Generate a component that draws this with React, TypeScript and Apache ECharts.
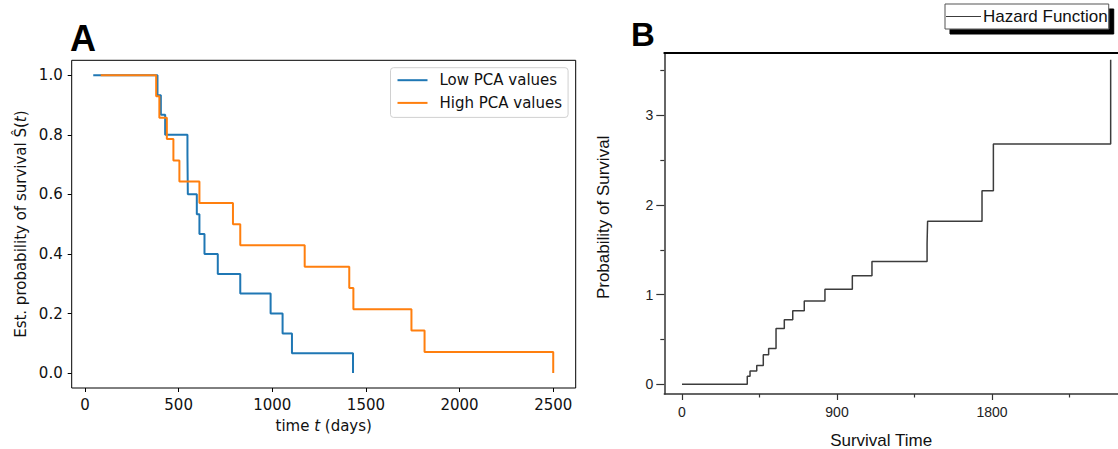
import React, { useEffect, useRef } from 'react';
import * as echarts from 'echarts';

// Panel A: Kaplan-Meier estimates
const lowPcaTimes = [44, 387, 405, 428, 547, 549, 597, 611, 638, 709, 829, 991, 1055, 1105, 1431];
const lowPcaSurv = [1, 0.933, 0.867, 0.8, 0.733, 0.6, 0.533, 0.467, 0.4, 0.333, 0.267, 0.2, 0.133, 0.067, 0];
const highPcaTimes = [84, 380, 397, 437, 472, 504, 611, 790, 829, 1173, 1411, 1433, 1743, 1813, 2500];
const highPcaSurv = [1, 0.929, 0.857, 0.786, 0.714, 0.643, 0.571, 0.5, 0.429, 0.357, 0.286, 0.214, 0.143, 0.071, 0];
const aXTicks = [0, 500, 1000, 1500, 2000, 2500];
const aYTicks = [0, 0.2, 0.4, 0.6, 0.8, 1.0];

// Panel B: hazard function
const hazardTimes = [0, 379, 395, 434, 472, 503, 546, 594, 643, 710, 830, 989, 1103, 1423, 1426, 1742, 1808, 2489];
const hazardValues = [0, 0.09, 0.15, 0.21, 0.33, 0.4, 0.624, 0.72, 0.82, 0.93, 1.06, 1.21, 1.37, 1.57, 1.82, 2.16, 2.68, 3.62];
const bXTicks = [0, 900, 1800];
const bXMinor = [450, 1350, 2250];
const bYTicks = [0, 1, 2, 3];
const bYMinor = [0.5, 1.5, 2.5, 3.5];

const zip = (xs: number[], ys: number[]) => xs.map((x, i) => [x, ys[i]]);

const MPL = 'DejaVu Sans';
const ARIAL = 'Liberation Sans';

function buildOption(): any {
  const mplText = { fontFamily: MPL, fontSize: 15, color: '#111' };
  const arialTick = { fontFamily: ARIAL, fontSize: 14, color: '#222' };
  return {
    animation: false,
    backgroundColor: '#fff',
    grid: [
      { left: 71.7, top: 60.3, width: 504, height: 327.7, show: true, borderColor: '#000', borderWidth: 1, backgroundColor: 'transparent', outerBoundsMode: 'none', containLabel: false },
      { left: 664.3, top: 52.7, right: 0, height: 341.3, show: false, outerBoundsMode: 'none', containLabel: false },
    ],
    xAxis: [
      {
        type: 'value', gridIndex: 0, min: -71, max: 2620,
        axisLine: { show: false, onZero: false },
        splitLine: { show: false },
        axisTick: { show: true, length: 4, inside: false, customValues: aXTicks, lineStyle: { color: '#000', width: 1 } },
        axisLabel: { ...mplText, margin: 9, customValues: aXTicks, formatter: (v: number) => String(v) },
        name: '{n|time }{i|t}{n| (days)}',
        nameLocation: 'middle', nameGap: 30,
        nameTextStyle: { ...mplText, rich: { n: { ...mplText }, i: { ...mplText, fontStyle: 'italic' } } },
      },
      {
        type: 'value', gridIndex: 1, position: 'bottom', min: -102.8, max: 2531.6,
        axisLine: { show: true, onZero: false, lineStyle: { color: '#333', width: 1.5 } },
        splitLine: { show: false },
        axisTick: { show: true, length: 6, customValues: bXTicks, lineStyle: { color: '#333', width: 1.2 } },
        axisLabel: { ...arialTick, margin: 11, customValues: bXTicks, formatter: (v: number) => String(v) },
        name: 'Survival Time', nameLocation: 'middle', nameGap: 38,
        nameTextStyle: { fontFamily: ARIAL, fontSize: 17, lineHeight: 16, color: '#111', padding: [0, 20, 0, 0] },
      },
      {
        type: 'value', gridIndex: 1, position: 'bottom', min: -102.8, max: 2531.6,
        axisLine: { show: false, onZero: false },
        splitLine: { show: false },
        axisTick: { show: true, length: 3.5, customValues: bXMinor, lineStyle: { color: '#333', width: 1.2 } },
        axisLabel: { show: false },
      },
      {
        type: 'value', gridIndex: 1, position: 'top', min: -102.8, max: 2531.6,
        axisLine: { show: true, onZero: false, lineStyle: { color: '#000', width: 2 } },
        splitLine: { show: false },
        axisTick: { show: false },
        axisLabel: { show: false },
      },
    ],
    yAxis: [
      {
        type: 'value', gridIndex: 0, min: -0.05, max: 1.05,
        axisLine: { show: false, onZero: false },
        splitLine: { show: false },
        axisTick: { show: true, length: 4, customValues: aYTicks, lineStyle: { color: '#000', width: 1 } },
        axisLabel: { ...mplText, margin: 9, customValues: aYTicks, formatter: (v: number) => v.toFixed(1) },
        name: '{n|Est. probability of survival Ŝ(}{i|t}{n|)}',
        nameLocation: 'middle', nameGap: 43,
        nameTextStyle: { ...mplText, rich: { n: { ...mplText }, i: { ...mplText, fontStyle: 'italic' } } },
      },
      {
        type: 'value', gridIndex: 1, position: 'left', min: -0.108, max: 3.7,
        axisLine: { show: true, onZero: false, lineStyle: { color: '#333', width: 1.5 } },
        splitLine: { show: false },
        axisTick: { show: true, length: 8, customValues: bYTicks, lineStyle: { color: '#333', width: 1.2 } },
        axisLabel: { ...arialTick, margin: 11, customValues: bYTicks, formatter: (v: number) => String(v) },
        name: 'Probability of Survival', nameLocation: 'middle', nameGap: 52,
        nameTextStyle: { fontFamily: ARIAL, fontSize: 17, color: '#111', padding: [0, 0, 0, 12] },
      },
      {
        type: 'value', gridIndex: 1, position: 'left', min: -0.108, max: 3.7,
        axisLine: { show: false, onZero: false },
        splitLine: { show: false },
        axisTick: { show: true, length: 4, customValues: bYMinor, lineStyle: { color: '#333', width: 1.2 } },
        axisLabel: { show: false },
      },
    ],
    legend: [
      {
        data: [
          { name: 'Low PCA values', icon: 'path://M0 0H30V2H0Z' },
          { name: 'High PCA values', icon: 'path://M0 0H30V2H0Z' },
        ],
        orient: 'vertical', left: 390.5, top: 67.7,
        padding: [5, 6, 7, 7], itemGap: 7.7, itemWidth: 30, itemHeight: 15,
        backgroundColor: '#fff', borderColor: '#d0d0d0', borderWidth: 1, borderRadius: 3,
        selectedMode: false,
        textStyle: { fontFamily: MPL, fontSize: 15, color: '#111', lineHeight: 15, padding: [0, 0, 0, 7] },
      },
      {
        data: [{ name: 'Hazard Function', icon: 'path://M0 0H35V1H0Z' }],
        orient: 'horizontal', left: 945, top: 4,
        padding: [4, 1, 4, 1], itemWidth: 35, itemHeight: 17,
        backgroundColor: '#fff', borderColor: '#555', borderWidth: 1,
        shadowColor: '#000', shadowBlur: 0, shadowOffsetX: 5, shadowOffsetY: 5,
        selectedMode: false,
        textStyle: { fontFamily: ARIAL, fontSize: 17, color: '#111', lineHeight: 17, padding: [0, 0, 0, -3] },
      },
    ],
    graphic: [
      { type: 'text', left: 70, top: 20, style: { text: 'A', fontFamily: ARIAL, fontWeight: 'bold', fontSize: 36, fill: '#000' } },
      { type: 'text', left: 631, top: 18, style: { text: 'B', fontFamily: ARIAL, fontWeight: 'bold', fontSize: 33, fill: '#000' } },
    ],
    series: [
      {
        name: 'Low PCA values', type: 'line', step: 'end', xAxisIndex: 0, yAxisIndex: 0,
        data: zip(lowPcaTimes, lowPcaSurv), symbol: 'none',
        lineStyle: { color: '#1f77b4', width: 2 }, itemStyle: { color: '#1f77b4' },
      },
      {
        name: 'High PCA values', type: 'line', step: 'end', xAxisIndex: 0, yAxisIndex: 0,
        data: zip(highPcaTimes, highPcaSurv), symbol: 'none',
        lineStyle: { color: '#ff7f0e', width: 2 }, itemStyle: { color: '#ff7f0e' },
      },
      {
        name: 'Hazard Function', type: 'line', step: 'end', xAxisIndex: 1, yAxisIndex: 1,
        data: zip(hazardTimes, hazardValues), symbol: 'none',
        lineStyle: { color: '#3c3c3c', width: 1.5 }, itemStyle: { color: '#3c3c3c' },
      },
    ],
  };
}

export default function App() {
  const ref = useRef<HTMLDivElement>(null);
  useEffect(() => {
    const chart = echarts.init(ref.current!, null, { renderer: 'svg' });
    chart.setOption(buildOption());
    return () => chart.dispose();
  }, []);
  return (
    <div
      ref={ref}
      style={{ position: 'absolute', left: 0, top: 0, width: 1118, height: 449, background: '#fff' }}
    />
  );
}
